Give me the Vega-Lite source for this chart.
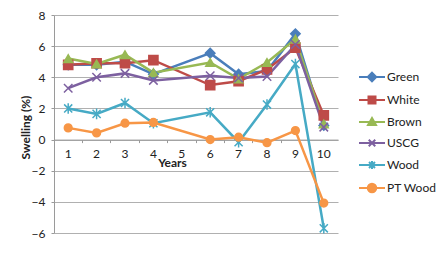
{
  "$schema": "https://vega.github.io/schema/vega-lite/v6.json",
  "autosize": {"type": "none"},
  "padding": {"left": 54, "top": 15, "right": 105, "bottom": 33},
  "width": 284,
  "height": 218,
  "background": "white",
  "config": {
    "view": {"stroke": null},
    "font": "Lato",
    "axis": {"labelFont": "Lato", "titleFont": "Lato", "labelColor": "#222", "titleColor": "#222"},
    "legend": {"labelFont": "Lato"}
  },
  "data": {"values": [
    {"series": "Green", "year": 1, "swelling": 4.8},
    {"series": "Green", "year": 2, "swelling": 4.8},
    {"series": "Green", "year": 3, "swelling": 5.0},
    {"series": "Green", "year": 4, "swelling": 4.2},
    {"series": "Green", "year": 6, "swelling": 5.55},
    {"series": "Green", "year": 7, "swelling": 4.2},
    {"series": "Green", "year": 8, "swelling": 4.4},
    {"series": "Green", "year": 9, "swelling": 6.8},
    {"series": "Green", "year": 10, "swelling": 0.9},
    {"series": "White", "year": 1, "swelling": 4.8},
    {"series": "White", "year": 2, "swelling": 4.9},
    {"series": "White", "year": 3, "swelling": 4.9},
    {"series": "White", "year": 4, "swelling": 5.1},
    {"series": "White", "year": 6, "swelling": 3.5},
    {"series": "White", "year": 7, "swelling": 3.75},
    {"series": "White", "year": 8, "swelling": 4.5},
    {"series": "White", "year": 9, "swelling": 5.9},
    {"series": "White", "year": 10, "swelling": 1.55},
    {"series": "Brown", "year": 1, "swelling": 5.2},
    {"series": "Brown", "year": 2, "swelling": 4.85},
    {"series": "Brown", "year": 3, "swelling": 5.45},
    {"series": "Brown", "year": 4, "swelling": 4.3},
    {"series": "Brown", "year": 6, "swelling": 4.95},
    {"series": "Brown", "year": 7, "swelling": 3.9},
    {"series": "Brown", "year": 8, "swelling": 4.95},
    {"series": "Brown", "year": 9, "swelling": 6.45},
    {"series": "Brown", "year": 10, "swelling": 1.0},
    {"series": "USCG", "year": 1, "swelling": 3.3},
    {"series": "USCG", "year": 2, "swelling": 4.0},
    {"series": "USCG", "year": 3, "swelling": 4.25},
    {"series": "USCG", "year": 4, "swelling": 3.8},
    {"series": "USCG", "year": 6, "swelling": 4.1},
    {"series": "USCG", "year": 7, "swelling": 3.95},
    {"series": "USCG", "year": 8, "swelling": 4.05},
    {"series": "USCG", "year": 9, "swelling": 6.1},
    {"series": "USCG", "year": 10, "swelling": 0.8},
    {"series": "Wood", "year": 1, "swelling": 2.0},
    {"series": "Wood", "year": 2, "swelling": 1.65},
    {"series": "Wood", "year": 3, "swelling": 2.35},
    {"series": "Wood", "year": 4, "swelling": 1.05},
    {"series": "Wood", "year": 6, "swelling": 1.75},
    {"series": "Wood", "year": 7, "swelling": -0.17},
    {"series": "Wood", "year": 8, "swelling": 2.25},
    {"series": "Wood", "year": 9, "swelling": 4.85},
    {"series": "Wood", "year": 10, "swelling": -5.7},
    {"series": "PT Wood", "year": 1, "swelling": 0.75},
    {"series": "PT Wood", "year": 2, "swelling": 0.43},
    {"series": "PT Wood", "year": 3, "swelling": 1.05},
    {"series": "PT Wood", "year": 4, "swelling": 1.1},
    {"series": "PT Wood", "year": 6, "swelling": 0.0},
    {"series": "PT Wood", "year": 7, "swelling": 0.15},
    {"series": "PT Wood", "year": 8, "swelling": -0.2},
    {"series": "PT Wood", "year": 9, "swelling": 0.58},
    {"series": "PT Wood", "year": 10, "swelling": -4.08}
  ]},
  "encoding": {
    "x": {
      "field": "year", "type": "ordinal",
      "scale": {"type": "band", "domain": [1,2,3,4,5,6,7,8,9,10], "paddingInner": 0, "paddingOuter": 0},
      "axis": {
        "title": "Years", "titleFontSize": 12, "titleFontWeight": "bold",
        "titleX": 118, "titleY": 23, "titleBaseline": "middle", "titleAlign": "center",
        "labelAngle": 0, "labelFontSize": 12, "bandPosition": 0, "labelOffset": 0,
        "labelPadding": 6, "tickSize": 3, "tickColor": "#9a9a9a", "domainColor": "#9a9a9a",
        "grid": false, "offset": -93.4
      }
    },
    "y": {
      "field": "swelling", "type": "quantitative",
      "scale": {"domain": [-6, 8], "nice": false, "zero": false},
      "axis": {
        "title": "Swelling (%)", "titleFontSize": 12, "titleFontWeight": "bold",
        "titleX": -29, "titleY": 112, "titleBaseline": "middle", "titleAlign": "center",
        "values": [-6,-4,-2,0,2,4,6,8], "labelFontSize": 12, "labelPadding": 6,
        "tickSize": 3, "tickColor": "#9a9a9a", "domainColor": "#9a9a9a",
        "grid": true, "gridColor": "#b0b0b0", "gridWidth": 1
      }
    }
  },
  "layer": [
    {
      "mark": {"type": "line", "strokeWidth": 2.5},
      "encoding": {
        "color": {"field": "series", "type": "nominal", "legend": null,
          "scale": {"domain": ["Green","White","Brown","USCG","Wood","PT Wood"],
                    "range": ["#4A7EBB","#BE4B48","#98B954","#7D60A0","#46AAC5","#F79646"]}}
      }
    },
    {
      "mark": {"type": "point", "filled": true, "strokeWidth": 1.5, "opacity": 1},
      "encoding": {
        "color": {"field": "series", "type": "nominal", "legend": null,
          "scale": {"domain": ["Green","White","Brown","USCG","Wood","PT Wood"],
                    "range": ["#4A7EBB","#BE4B48","#98B954","#7D60A0","#46AAC5","#F79646"]}},
        "stroke": {"field": "series", "type": "nominal", "legend": null,
          "scale": {"domain": ["Green","White","Brown","USCG","Wood","PT Wood"],
                    "range": ["#4A7EBB","#BE4B48","#98B954","#7D60A0","#46AAC5","#F79646"]}},
        "shape": {"field": "series", "type": "nominal", "legend": null,
          "scale": {"domain": ["Green","White","Brown","USCG","Wood","PT Wood"],
                    "range": ["diamond","square","triangle-up","M-1,-1L1,1M-1,1L1,-1","M-1,-1L1,1M-1,1L1,-1M0,-1.3L0,1.3","circle"]}},
        "size": {"field": "series", "type": "nominal", "legend": null,
          "scale": {"domain": ["Green","White","Brown","USCG","Wood","PT Wood"],
                    "range": [90, 60, 80, 64, 64, 90]}}
      }
    },
    {
      "mark": {"type": "point", "filled": true, "opacity": 0},
      "encoding": {
        "color": {"field": "series", "type": "nominal",
          "scale": {"domain": ["Green","White","Brown","USCG","Wood","PT Wood"],
                    "range": ["#4A7EBB","#BE4B48","#98B954","#7D60A0","#46AAC5","#F79646"]},
          "legend": {"title": null, "orient": "none", "legendX": 312, "legendY": 56,
            "symbolSize": 100, "symbolStrokeWidth": 2, "symbolOpacity": 1,
            "labelFontSize": 12, "labelColor": "#222", "labelOffset": 9, "rowPadding": 6, "padding": 0}},
        "stroke": {"field": "series", "type": "nominal",
          "scale": {"domain": ["Green","White","Brown","USCG","Wood","PT Wood"],
                    "range": ["#4A7EBB","#BE4B48","#98B954","#7D60A0","#46AAC5","#F79646"]},
          "legend": {"title": null, "orient": "none", "legendX": 312, "legendY": 56,
            "symbolSize": 100, "symbolStrokeWidth": 2, "symbolOpacity": 1,
            "labelFontSize": 12, "labelColor": "#222", "labelOffset": 9, "rowPadding": 6, "padding": 0}},
        "shape": {"field": "series", "type": "nominal",
          "scale": {"domain": ["Green","White","Brown","USCG","Wood","PT Wood"],
                    "range": [
                      "M-2.6,0L2.6,0M0,-0.85L0.85,0L0,0.85L-0.85,0Z",
                      "M-2.6,0L2.6,0M-0.7,-0.7L0.7,-0.7L0.7,0.7L-0.7,0.7Z",
                      "M-2.6,0L2.6,0M0,-0.8L0.8,0.6L-0.8,0.6Z",
                      "M-2.6,0L2.6,0M-0.65,-0.65L0.65,0.65M-0.65,0.65L0.65,-0.65",
                      "M-2.6,0L2.6,0M-0.6,-0.6L0.6,0.6M-0.6,0.6L0.6,-0.6M0,-0.8L0,0.8",
                      "M-2.6,0L2.6,0M0.85,0A0.85,0.85,0,1,1,-0.85,0A0.85,0.85,0,1,1,0.85,0Z"
                    ]},
          "legend": {"title": null, "orient": "none", "legendX": 312, "legendY": 56,
            "symbolSize": 100, "symbolStrokeWidth": 2, "symbolOpacity": 1,
            "labelFontSize": 12, "labelColor": "#222", "labelOffset": 9, "rowPadding": 6, "padding": 0}}
      }
    }
  ],
  "resolve": {"scale": {"color": "independent", "stroke": "independent", "shape": "independent", "size": "independent"}}
}
